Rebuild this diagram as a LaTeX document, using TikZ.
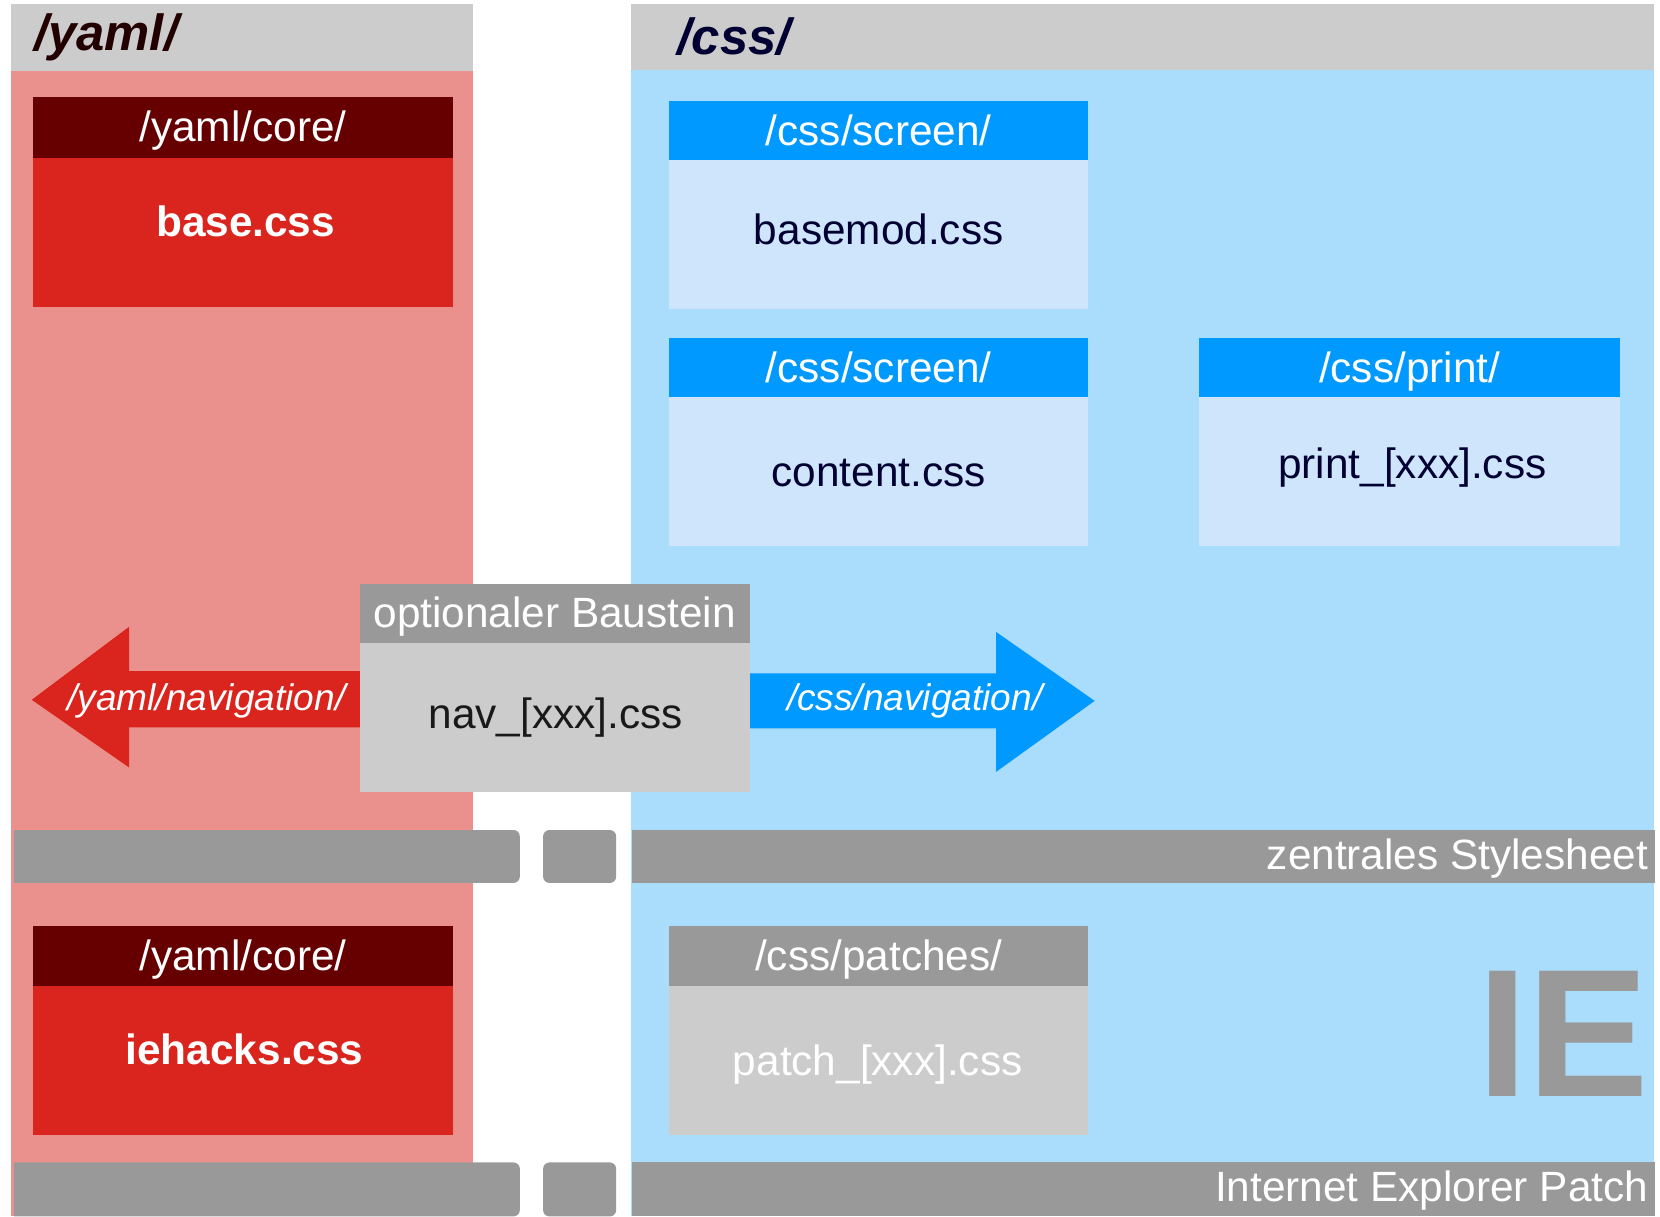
\documentclass[tikz,border=0pt]{standalone}
\usepackage{fontspec}
\setmainfont{Liberation Sans}
\definecolor{hdrgray}{HTML}{CCCCCC}
\definecolor{midgray}{HTML}{999999}
\definecolor{yamlpink}{HTML}{EB918D}
\definecolor{cssblue}{HTML}{AADDFC}
\definecolor{darkred}{HTML}{660000}
\definecolor{corered}{HTML}{D9251D}
\definecolor{brightblue}{HTML}{0099FF}
\definecolor{paleblue}{HTML}{CFE5FB}
\definecolor{navy}{HTML}{000033}
\definecolor{darkbrown}{HTML}{220000}
\tikzset{
  blk/.style={inner sep=0pt, outer sep=0pt, anchor=north west},
  filehdr/.style={blk, minimum height=57pt, text=white, text height=29pt, text depth=2pt, font=\fontsize{40}{40}\selectfont},
  filebody/.style={blk, minimum height=141pt},
  ftxt/.style={inner sep=0pt, font=\fontsize{40}{40}\selectfont},
  boldtxt/.style={ftxt, text=white, font=\fontsize{40}{40}\selectfont\bfseries},
  coltitle/.style={inner sep=0pt, anchor=west, font=\fontsize{48}{48}\selectfont\bfseries\itshape},
  navtxt/.style={inner sep=0pt, text=white, font=\fontsize{35}{35}\selectfont\itshape},
  barseg/.style={fill=midgray},
  bartxt/.style={inner sep=0pt, anchor=east, text=white, font=\fontsize{40}{40}\selectfont}
}
\begin{document}
\begin{tikzpicture}[x=1pt,y=-1pt]
\useasboundingbox (0,0) rectangle (1568,1149);
\fill[white] (0,0) rectangle (1568,1149);

% column backgrounds and headings
\node[blk, fill=yamlpink, minimum width=437pt, minimum height=1082pt] (yamlcol) at (10,67) {};
\node[blk, fill=hdrgray, minimum width=437pt, minimum height=63pt] (yamlhdr) at (10,4) {};
\node[coltitle, text=darkbrown] (yamltitle) at (32,35) {/yaml/};
\node[blk, fill=cssblue, minimum width=966pt, minimum height=1083pt] (csscol) at (596,66) {};
\node[blk, fill=hdrgray, minimum width=966pt, minimum height=62pt] (csshdr) at (596,4) {};
\node[coltitle, text=navy] (csstitle) at (640,35) {/css/};

% /yaml/core/base.css
\node[filehdr, fill=darkred, minimum width=397pt] (corehdr) at (31,92) {/yaml/core/};
\node[filebody, fill=corered, minimum width=397pt] (corebody) at (31,149) {};
\node[boldtxt] (basetxt) at (232,209) {base.css};

% /css/screen/basemod.css
\node[filehdr, fill=brightblue, minimum width=396pt] (scr1hdr) at (632,95) {/css/screen/};
\node[filebody, fill=paleblue, minimum width=396pt] (scr1body) at (632,151) {};
\node[ftxt, text=navy] (basemodtxt) at (830,217) {basemod.css};

% /css/screen/content.css
\node[filehdr, fill=brightblue, minimum width=396pt] (scr2hdr) at (632,319) {/css/screen/};
\node[filebody, fill=paleblue, minimum width=396pt] (scr2body) at (632,375) {};
\node[ftxt, text=navy] (contenttxt) at (830,447) {content.css};

% /css/print/print_[xxx].css
\node[filehdr, fill=brightblue, minimum width=397pt] (prthdr) at (1133,319) {/css/print/};
\node[filebody, fill=paleblue, minimum width=397pt] (prtbody) at (1133,375) {};
\node[ftxt, text=navy] (printtxt) at (1334,442) {print\_[xxx].css};

% navigation arrows
\coordinate (ltip) at (30,661);
\coordinate (rtip) at (1034,662);
\fill[corered] (340,634) -- (122,634) -- (122,592) -- (ltip) -- (122,725) -- (122,687) -- (340,687) -- cycle;
\fill[brightblue] (708,636) -- (941,636) -- (941,597) -- (rtip) -- (941,729) -- (941,688) -- (708,688) -- cycle;
\node[navtxt] (yamlnav) at (195,662) {/yaml/navigation/};
\node[navtxt] (cssnav) at (864,662) {/css/navigation/};

% optional module nav_[xxx].css
\node[filehdr, fill=midgray, minimum width=368pt, minimum height=55pt] (navhdr) at (340,552) {optionaler Baustein};
\node[filebody, fill=hdrgray, minimum width=368pt] (navbody) at (340,607) {};
\node[ftxt, text=black!90] (navtxt) at (525,678) {nav\_[xxx].css};

% bar: central stylesheet
\fill[barseg] (13,784) [rounded corners=6pt] -- (491,784) -- (491,834) [sharp corners] -- (13,834) -- cycle;
\fill[barseg, rounded corners=6pt] (513,784) rectangle (582,834);
\node[blk, fill=midgray, minimum width=966pt, minimum height=50pt] (zbar) at (597,784) {};
\node[bartxt] (ztxt) at (1557,811) {zentrales Stylesheet};

% /yaml/core/iehacks.css
\node[filehdr, fill=darkred, minimum width=397pt] (iehdr) at (31,875) {/yaml/core/};
\node[filebody, fill=corered, minimum width=397pt] (iebody) at (31,931) {};
\node[boldtxt] (iehackstxt) at (231,991) {iehacks.css};

% /css/patches/patch_[xxx].css
\node[filehdr, fill=midgray, minimum width=396pt] (pchhdr) at (632,875) {/css/patches/};
\node[filebody, fill=hdrgray, minimum width=396pt] (pchbody) at (632,931) {};
\node[ftxt, text=white] (patchtxt) at (829,1006) {patch\_[xxx].css};

% big IE mark
\node[inner sep=0pt, anchor=base west, text=midgray, font=\fontsize{172}{172}\selectfont\bfseries] (ie) at (1395,1036) {IE};

% bar: Internet Explorer patch
\fill[barseg] (13,1098) [rounded corners=6pt] -- (491,1098) -- (491,1149) [sharp corners] -- (13,1149) -- cycle;
\fill[barseg, rounded corners=6pt] (513,1098) rectangle (582,1149);
\node[blk, fill=midgray, minimum width=966pt, minimum height=51pt] (iebar) at (597,1098) {};
\node[bartxt] (iebartxt) at (1557,1125) {Internet Explorer Patch};
\end{tikzpicture}
\end{document}
